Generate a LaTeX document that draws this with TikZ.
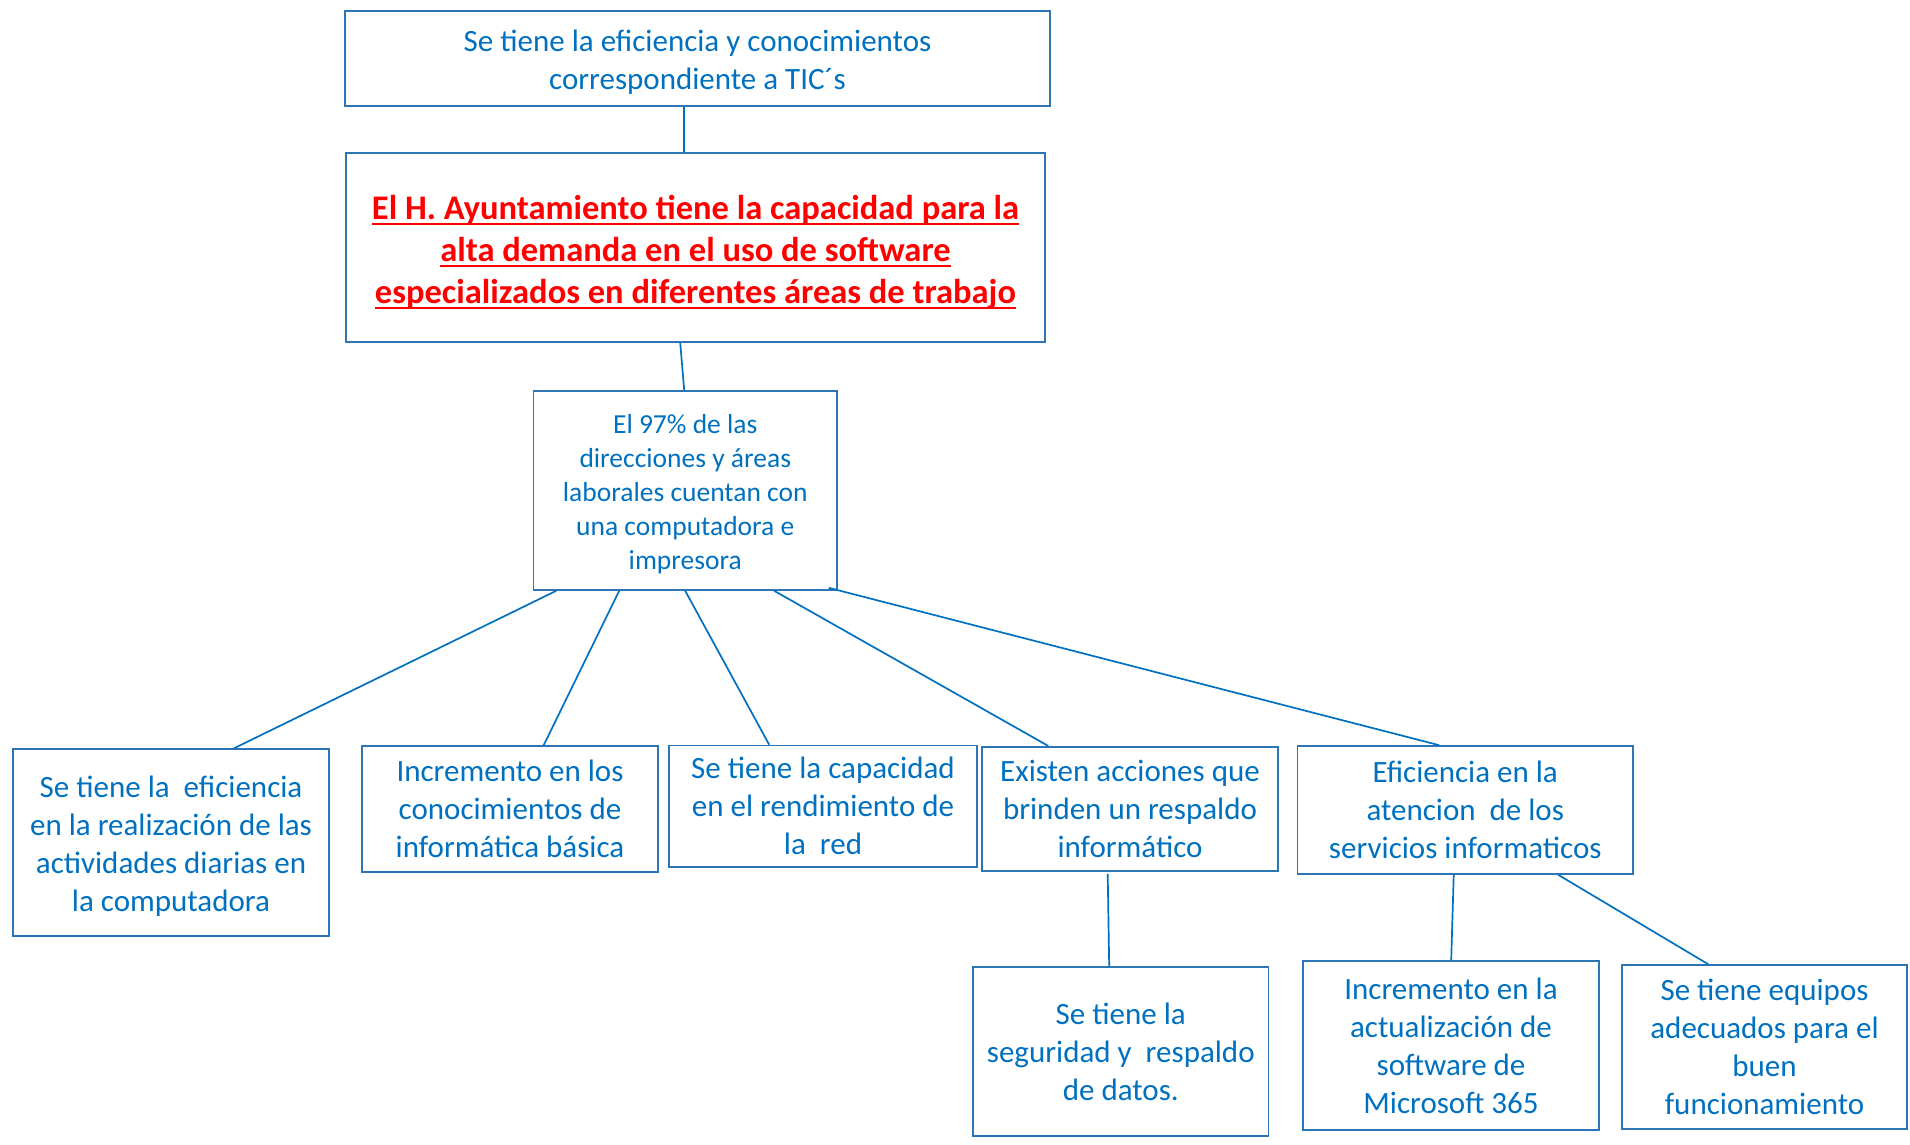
\documentclass[tikz,border=0pt]{standalone}
\usepackage{fontspec}
\setmainfont{Carlito}
\usetikzlibrary{calc}
\definecolor{tblue}{HTML}{0070C0}
\definecolor{bblue}{HTML}{2E75B6}
\definecolor{tred}{HTML}{FF0000}
\newcommand\redul[1]{\setbox0\hbox{#1}\rlap{\vrule width\wd0 height -3.5pt depth 5.5pt}\box0}
\tikzset{
  box/.style={draw=bblue, line width=1.6pt, inner sep=0pt, align=center, text=tblue,
    font=\fontsize{31}{38}\selectfont},
  frame/.style={draw=bblue, line width=1.6pt, inner sep=0pt},
  txt/.style={inner sep=0pt, align=center, text=tblue, font=\fontsize{31}{38}\selectfont},
  link/.style={draw=tblue, line width=1.7pt},
}
\begin{document}
\begin{tikzpicture}[x=1pt,y=-1pt]
\useasboundingbox (0,0) rectangle (1910,1144);
\node[frame, minimum width=705, minimum height=95] (top) at (697.5,58.5) {};
\node[txt, yshift=-3.5pt] (topt) at (top.center)
  {Se tiene la eficiencia y conocimientos\\correspondiente a TIC´s};
\node[frame, minimum width=699, minimum height=189] (main) at (695.5,247.5) {};
\node[txt, yshift=-4.5pt, text=tred, font=\fontsize{34.5}{42}\selectfont\bfseries] (maint) at (main.center)
  {\redul{El H. Ayuntamiento tiene la capacidad para la}\\
   \redul{alta demanda en el uso de software}\\
   \redul{especializados en diferentes áreas de trabajo}};
\node[frame, minimum width=303.5, minimum height=199] (mid) at (685.25,490.5) {};
\node[txt, yshift=-3.5pt, font=\fontsize{27.5}{34}\selectfont] (midt) at (mid.center)
  {El 97\% de las\\direcciones y áreas\\laborales cuentan con\\una computadora e\\impresora};
\node[frame, minimum width=316, minimum height=187] (b1) at (171,842.5) {};
\node[txt, yshift=-3.5pt] (b1t) at (b1.center)
  {Se tiene la~ eficiencia\\en la realización de las\\actividades diarias en\\la computadora};
\node[box, minimum width=296, minimum height=126] (b2) at (510,809)
  {Incremento en los\\conocimientos de\\informática básica};
\node[box, minimum width=308, minimum height=121.5] (b3) at (823,806.25)
  {Se tiene la capacidad\\en el rendimiento de\\la~ red};
\node[box, minimum width=296, minimum height=124.3] (b4) at (1130,808.85)
  {Existen acciones que\\brinden un respaldo\\informático};
\node[box, minimum width=335.5, minimum height=128] (b5) at (1465.25,810)
  {Eficiencia en la\\atencion~ de los\\servicios informaticos};
\node[box, minimum width=295.5, minimum height=169] (b6) at (1120.75,1051.5)
  {Se tiene la\\seguridad y~ respaldo\\de datos.};
\node[box, minimum width=296, minimum height=169] (b7) at (1451,1045.5)
  {Incremento en la\\actualización de\\software de\\Microsoft 365};
\node[box, minimum width=285, minimum height=164] (b8) at (1764.5,1047)
  {Se tiene equipos\\adecuados para el\\buen\\funcionamiento};
% connectors
\draw[link] ($(top.south west)+(340,0)$) -- ($(main.north west)+(339,0)$);
\draw[link] ($(main.south west)+(335,0)$) -- ($(mid.north west)+(151.5,0)$);
\draw[link] ($(mid.south west)+(23.5,0)$) -- ($(b1.north west)+(222,0)$);
\draw[link] ($(mid.south west)+(86.5,0)$) -- ($(b2.north west)+(182.5,0)$);
\draw[link] ($(mid.south west)+(152.5,0)$) -- ($(b3.north west)+(101,0)$);
\draw[link] ($(mid.south west)+(241.5,0)$) -- ($(b4.north west)+(67,0)$);
\draw[link] ($(mid.south west)+(296,-3)$) -- ($(b5.north west)+(142.5,0)$);
\draw[link] ($(b4.south west)+(126.5,2)$) -- ($(b6.north west)+(137,0)$);
\draw[link] ($(b5.south west)+(157,0)$) -- ($(b7.north west)+(149,0)$);
\draw[link] ($(b5.south west)+(261.5,0)$) -- ($(b8.north west)+(87,0)$);
\end{tikzpicture}
\end{document}
